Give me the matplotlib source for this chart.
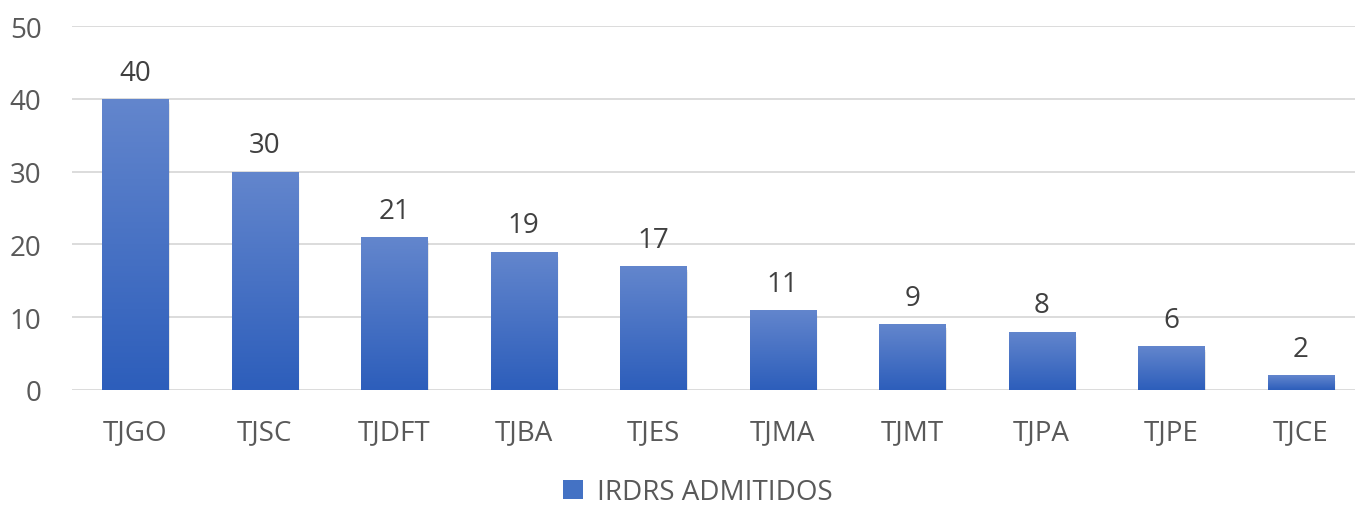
import matplotlib
matplotlib.use("Agg")
import matplotlib.pyplot as plt
import numpy as np
from matplotlib.colors import LinearSegmentedColormap
from matplotlib.patches import Patch

categories = ["TJGO", "TJSC", "TJDFT", "TJBA", "TJES", "TJMA", "TJMT", "TJPA", "TJPE", "TJCE"]
values = [40, 30, 21, 19, 17, 11, 9, 8, 6, 2]
series_name = "IRDRS ADMITIDOS"
y_ticks = [0, 10, 20, 30, 40, 50]

plt.rcParams["font.family"] = ["Open Sans", "DejaVu Sans"]

TOP = "#6386cd"
BOTTOM = "#2d5ebb"
cmap = LinearSegmentedColormap.from_list("bar", [BOTTOM, TOP])

fig = plt.figure(figsize=(13.55, 5.06), dpi=100)
ax = fig.add_axes([72 / 1355, 1 - 391 / 506, (1355 - 72) / 1355, (391 - 27) / 506])

x = np.arange(len(categories))
width = 0.51
bars = ax.bar(x, values, width=width, color="none", edgecolor="none", zorder=3)

grad = np.linspace(0, 1, 256).reshape(-1, 1)
for b, v in zip(bars, values):
    bx, bw = b.get_x(), b.get_width()
    # weicher Schatten
    for k, a in enumerate([0.10, 0.06, 0.03]):
        off = 0.006 * (k + 1)
        ax.add_patch(plt.Rectangle((bx + off, -0.25 * (k + 1)), bw, v, color="#000000",
                                   alpha=a, zorder=2, linewidth=0))
    im = ax.imshow(grad, cmap=cmap, origin="lower", aspect="auto",
                   extent=(bx, bx + bw, 0, v), zorder=3)
    im.set_clip_path(b)
    ax.text(bx + bw / 2, v + 2.65, str(v), ha="center", va="baseline",
            fontsize=20, color="#404040", zorder=4, clip_on=False)

ax.set_xlim(-0.487, 9.42)
ax.set_ylim(0, 50)
ax.set_yticks(y_ticks)
ax.set_xticks(x)
ax.set_xticklabels(categories)
ax.tick_params(axis="both", length=0, labelsize=20, labelcolor="#595959")
ax.tick_params(axis="x", pad=20)
ax.tick_params(axis="y", pad=22)
ax.grid(axis="y", color="#d9d9d9", linewidth=1.3, zorder=0)
ax.set_axisbelow(True)
for s in ax.spines.values():
    s.set_visible(False)

handle = Patch(facecolor="#4472c4", edgecolor="none")
fig.legend([handle], [series_name], loc="center", bbox_to_anchor=(0.515, 1 - 493 / 506),
           frameon=False, fontsize=20, labelcolor="#595959", handlelength=0.7,
           handleheight=0.7, handletextpad=0.5, borderpad=0.2)

fig.savefig("out.png", dpi=100)
